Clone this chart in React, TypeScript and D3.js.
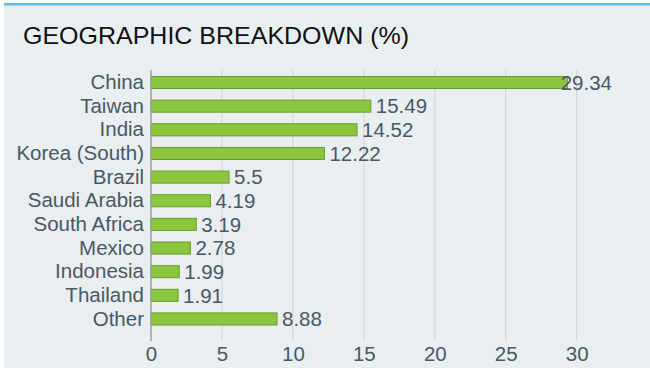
import React, { useEffect, useRef } from 'react';
import * as d3 from 'd3';

const countries = [
  'China', 'Taiwan', 'India', 'Korea (South)', 'Brazil', 'Saudi Arabia',
  'South Africa', 'Mexico', 'Indonesia', 'Thailand', 'Other',
];
const weights = [29.34, 15.49, 14.52, 12.22, 5.5, 4.19, 3.19, 2.78, 1.99, 1.91, 8.88];
const valueLabels = ['29.34', '15.49', '14.52', '12.22', '5.5', '4.19', '3.19', '2.78', '1.99', '1.91', '8.88'];
const xTicks = [0, 5, 10, 15, 20, 25, 30];

const App: React.FC = () => {
  const svgRef = useRef<SVGSVGElement>(null);

  useEffect(() => {
    if (!svgRef.current) return;
    const width = 650;
    const height = 368;
    const font = "'Liberation Sans', Arial, sans-serif";
    const textColor = '#4a5864';
    const fs = 20.5;

    const svg = d3.select(svgRef.current);
    svg.selectAll('*').remove();

    // panel + top rule
    svg.append('rect')
      .attr('x', 4).attr('y', 4)
      .attr('width', width - 4).attr('height', height - 4)
      .attr('fill', '#e9eef1');
    svg.append('rect')
      .attr('x', 4).attr('y', 3)
      .attr('width', width - 4).attr('height', 2.5)
      .attr('fill', '#5bbde9');

    svg.append('text')
      .attr('x', 23).attr('y', 44)
      .attr('font-family', font)
      .attr('font-size', 24)
      .attr('fill', '#111')
      .attr('textLength', 386)
      .attr('lengthAdjust', 'spacingAndGlyphs')
      .text('GEOGRAPHIC BREAKDOWN (%)');

    const x = d3.scaleLinear().domain([0, 30]).range([151, 576.7]);
    const y = d3.scaleBand<string>()
      .domain(countries)
      .range([70.7, 330.8])
      .paddingInner(0.49)
      .paddingOuter(0.245);

    const gridTop = 70;
    const gridBottom = 341;

    // grid lines
    svg.append('g')
      .selectAll('line')
      .data(xTicks.filter(t => t > 0))
      .enter()
      .append('line')
      .attr('x1', d => x(d)).attr('x2', d => x(d))
      .attr('y1', gridTop).attr('y2', gridBottom)
      .attr('stroke', '#cdd1d5')
      .attr('stroke-width', 1);

    // bars
    svg.append('g')
      .selectAll('rect')
      .data(weights)
      .enter()
      .append('rect')
      .attr('x', x(0))
      .attr('y', (d, i) => y(countries[i])!)
      .attr('width', d => x(d) - x(0))
      .attr('height', y.bandwidth())
      .attr('fill', '#8cc63f')
      .attr('stroke', '#6c9a2e')
      .attr('stroke-width', 1);

    // value axis line
    svg.append('line')
      .attr('x1', x(0)).attr('x2', x(0))
      .attr('y1', gridTop).attr('y2', gridBottom)
      .attr('stroke', '#9aa0a6')
      .attr('stroke-width', 1.5);

    // value labels (kept inside the plot on the right)
    const labelMax = 612;
    svg.append('g')
      .selectAll('text')
      .data(weights)
      .enter()
      .append('text')
      .attr('y', (d, i) => y(countries[i])! + y.bandwidth() / 2)
      .attr('dy', '0.35em')
      .attr('font-family', font)
      .attr('font-size', fs)
      .attr('fill', textColor)
      .text((d, i) => valueLabels[i])
      .attr('x', function (d) {
        const w = (this as SVGTextElement).getComputedTextLength();
        return Math.min(x(d) + 5, labelMax - w);
      });

    // category axis
    const yAxis = svg.append('g')
      .attr('transform', `translate(${x(0)},0)`)
      .call(d3.axisLeft(y).tickSize(0).tickPadding(7));
    yAxis.select('.domain').remove();
    yAxis.selectAll('text')
      .attr('font-family', font)
      .attr('font-size', fs)
      .attr('fill', textColor);

    // x axis
    const xAxis = svg.append('g')
      .attr('transform', `translate(0,${gridBottom})`)
      .call(d3.axisBottom(x).tickValues(xTicks).tickSize(0).tickPadding(5));
    xAxis.select('.domain').remove();
    xAxis.selectAll('text')
      .attr('font-family', font)
      .attr('font-size', fs)
      .attr('fill', textColor)
      .attr('dy', '0.71em');
  }, []);

  return (
    <svg
      ref={svgRef}
      width={650}
      height={368}
      style={{ position: 'absolute', left: 0, top: 0, background: '#fff' }}
    />
  );
};

export default App;
